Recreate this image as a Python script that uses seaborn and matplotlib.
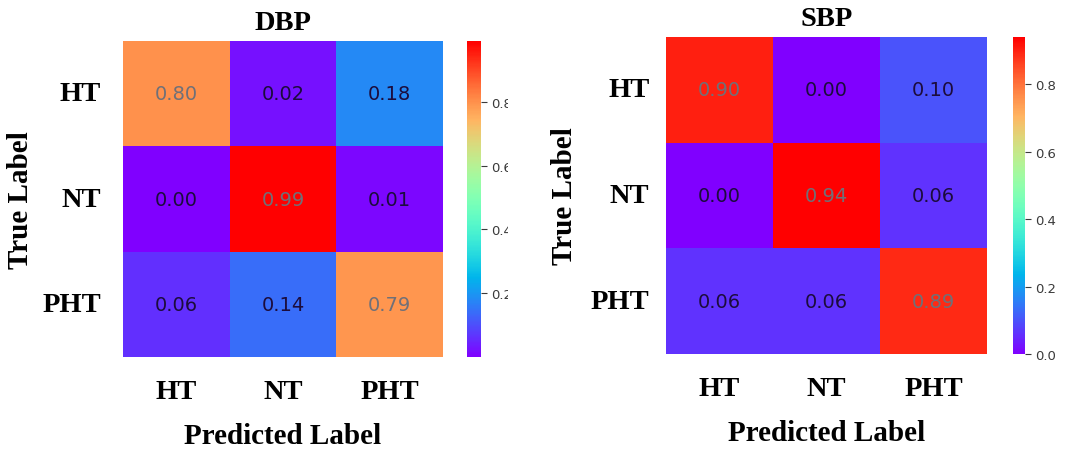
import numpy as np
import pandas as pd
import matplotlib
matplotlib.use('Agg')
import matplotlib.pyplot as plt
import seaborn as sns
from matplotlib.transforms import Bbox, TransformedBbox

# class names and normalised confusion matrices
classes = ['HT', 'NT', 'PHT']
dbp_values = [[0.80, 0.02, 0.18],
              [0.00, 0.99, 0.01],
              [0.06, 0.14, 0.79]]
sbp_values = [[0.90, 0.00, 0.10],
              [0.00, 0.94, 0.06],
              [0.06, 0.06, 0.89]]
titles = ['DBP', 'SBP']
cbar_ticks = [[0.2, 0.4, 0.6, 0.8], [0.0, 0.2, 0.4, 0.6, 0.8]]

serif = {'family': 'Liberation Serif', 'weight': 'bold'}

fig = plt.figure(figsize=(10.68, 4.52), dpi=100)

# heatmap box, colorbar box, ylabel pad, ytick pad for each panel
panels = [
    ([0.1152, 0.2080, 0.2996, 0.6990], [0.4373, 0.2080, 0.0131, 0.6990], 6, 16),
    ([0.6236, 0.2146, 0.3006, 0.7013], [0.9485, 0.2146, 0.0112, 0.7013], 9, 12),
]

# the left panel was cropped through its colorbar labels
left_clip = TransformedBbox(Bbox([[0, 0], [508 / 1068, 1]]), fig.transFigure)

for i, (values, title, ticks, (hbox, cbox, ylpad, ytpad)) in enumerate(
        zip([dbp_values, sbp_values], titles, cbar_ticks, panels)):
    ax = fig.add_axes(hbox)
    cax = fig.add_axes(cbox)
    df = pd.DataFrame(values, index=classes, columns=classes)
    sns.heatmap(df, ax=ax, cbar_ax=cax, cmap='rainbow', annot=True, fmt='.2f',
                annot_kws={'fontsize': 14})
    # low cells get dark text, high cells get grey text like the source
    for t in ax.texts:
        v = float(t.get_text())
        t.set_color('#707078' if v > 0.5 else '#1c0c3c')
    ax.set_title(title, fontdict={**serif, 'size': 20.5}, pad=9)
    ax.set_xlabel('Predicted Label', fontdict={**serif, 'size': 21}, labelpad=13)
    ax.set_ylabel('True Label', fontdict={**serif, 'size': 21}, labelpad=ylpad)
    ax.tick_params(axis='both', length=0)
    ax.tick_params(axis='x', pad=16)
    ax.tick_params(axis='y', pad=ytpad)
    for lab in ax.get_xticklabels() + ax.get_yticklabels():
        lab.set_fontfamily('Liberation Serif')
        lab.set_fontweight('bold')
        lab.set_fontsize(20.5)
    ax.set_yticklabels(classes, rotation=0)
    cax.set_yticks(ticks)
    cax.tick_params(labelsize=9.5, colors='#3a3a3a', length=4.5, pad=3)
    for s in cax.spines.values():
        s.set_visible(False)
    if i == 0:
        for tk in cax.yaxis.get_major_ticks():
            tk.label2.set_clip_box(left_clip)
            tk.label2.set_clip_on(True)

fig.savefig('out.png', dpi=100)
